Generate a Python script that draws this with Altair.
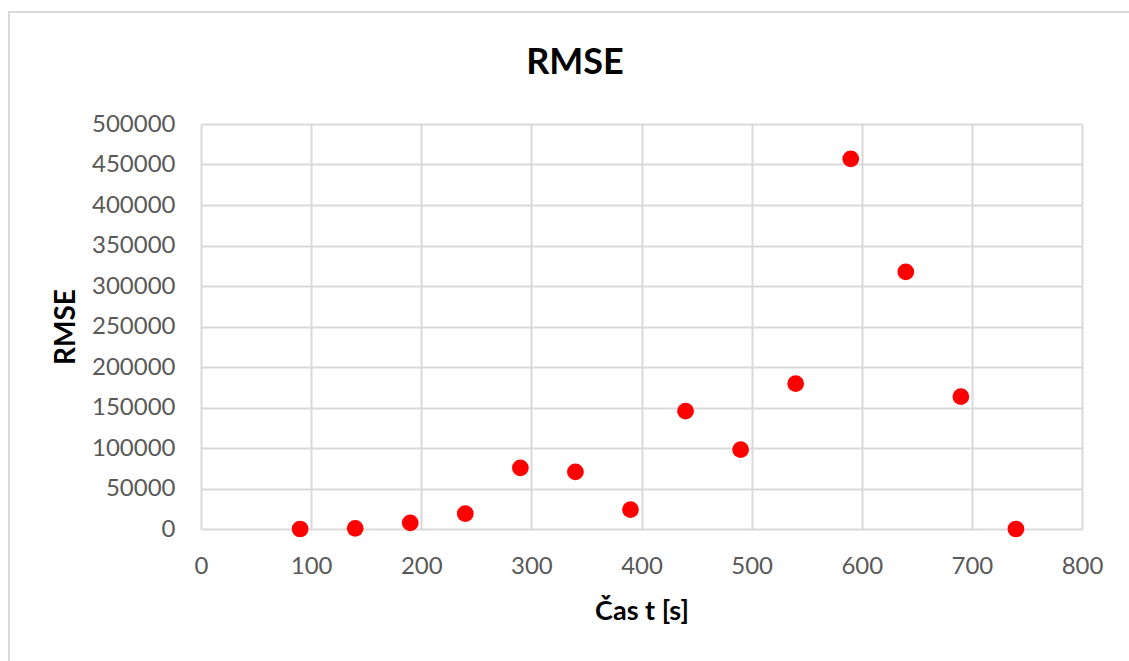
import altair as alt
import pandas as pd

# Time of each measurement [s] and the RMSE obtained at that time
cas_t = [90, 140, 190, 240, 290, 340, 390, 440, 490, 540, 590, 640, 690, 740]
rmse = [0, 800, 7500, 19000, 75500, 70500, 24000, 145500, 98000, 179500, 457000, 317500, 163500, 0]

x_ticks = list(range(0, 801, 100))
y_ticks = list(range(0, 500001, 50000))

df = pd.DataFrame({"t": cas_t, "rmse": rmse})
one = pd.DataFrame({"k": [0]})

FONT = "Lato"
GRID = "#d9d9d9"

points = alt.Chart(df).mark_point(
    filled=True, shape="circle", size=280, color="#ff0000", opacity=1
).encode(
    x=alt.X(
        "t:Q",
        scale=alt.Scale(domain=[0, 800], nice=False, zero=True),
        axis=alt.Axis(
            values=x_ticks,
            title="Čas t [s]",
            grid=True,
            domain=False,
            ticks=False,
            labelPadding=25,
            labelFontSize=24,
            labelFont=FONT,
            labelColor="#595959",
            titleFont=FONT,
            titleFontSize=27,
            titleFontWeight="bold",
            titleColor="#000000",
            titleY=82,
            titleBaseline="middle",
            labelFlush=False,
        ),
    ),
    y=alt.Y(
        "rmse:Q",
        scale=alt.Scale(domain=[0, 500000], nice=False),
        axis=alt.Axis(
            values=y_ticks,
            format="d",
            title="RMSE",
            grid=True,
            domain=False,
            ticks=False,
            labelPadding=26,
            labelFontSize=24,
            labelFont=FONT,
            labelColor="#595959",
            titleFont=FONT,
            titleFontSize=28,
            titleFontWeight="bold",
            titleColor="#000000",
            titleX=-135,
            titleY=202.5,
            titleAngle=270,
            titleAlign="center",
            titleBaseline="middle",
            labelFlush=False,
        ),
    ),
)

# Outer chart frame
frame = alt.Chart(one).mark_rect(
    fill=None, stroke=GRID, strokeWidth=2, clip=False
).encode(
    x=alt.value(-192), x2=alt.value(940),
    y=alt.value(-112), y2=alt.value(545),
)

title = alt.Chart(one).mark_text(
    text="RMSE", font=FONT, fontSize=36, fontWeight="bold",
    color="#000000", align="center", baseline="middle",
).encode(x=alt.value(374), y=alt.value(-61))

chart = alt.layer(frame, title, points).properties(
    width=881,
    height=405,
    autosize=alt.AutoSizeParams(type="none"),
    padding={"left": 201, "top": 124, "right": 47, "bottom": 132},
    background="white",
).configure_axis(
    gridColor=GRID, gridWidth=2
).configure_view(stroke=None)

chart.save("out.html", embed_options={"renderer": "svg", "actions": False})
